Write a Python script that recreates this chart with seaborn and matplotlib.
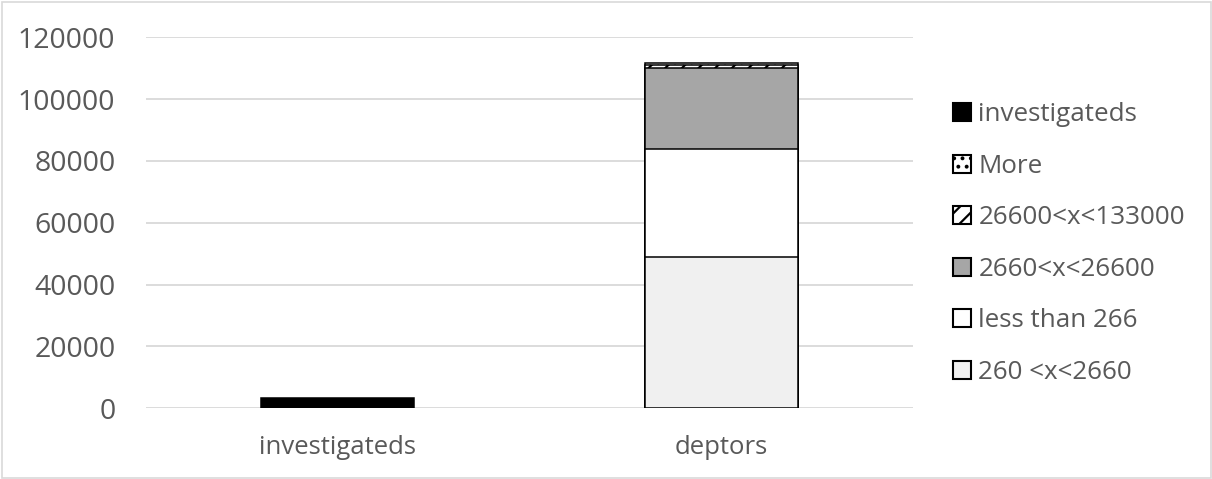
import matplotlib
matplotlib.use("Agg")
import matplotlib.pyplot as plt
from matplotlib.patches import Patch, Rectangle
import numpy as np
import pandas as pd
import seaborn as sns

# Categories on the x axis
categories = ["investigateds", "deptors"]

# Stacked series, bottom to top (values per category)
series_names = ["260 <x<2660", "less than 266", "2660<x<26600",
                "26600<x<133000", "More", "investigateds"]
val_260_2660 = [0, 49000]
val_less_266 = [0, 35000]
val_2660_26600 = [0, 26100]
val_26600_133000 = [0, 1100]
val_more = [0, 500]
val_investigateds = [3200, 0]

series_values = [val_260_2660, val_less_266, val_2660_26600,
                 val_26600_133000, val_more, val_investigateds]

y_ticks = [0, 20000, 40000, 60000, 80000, 100000, 120000]

# Styling per series
face_colors = ["#f0f0f0", "#ffffff", "#a6a6a6", "#ffffff", "#ffffff", "#000000"]
hatches = [None, None, None, "//", "..", None]

sns.set_theme(style="white")
plt.rcParams["font.family"] = ["Open Sans", "DejaVu Sans"]
plt.rcParams["hatch.linewidth"] = 1.6
text_color = "#595959"
grid_color = "#d9d9d9"

fig = plt.figure(figsize=(12.12, 4.79), dpi=100)
ax = fig.add_axes([146 / 1212, 1 - 408.3 / 479, 767 / 1212, 371 / 479])

# Long table with cumulative tops for each stacked segment
rows = []
cum = np.zeros(len(categories))
for name, vals in zip(series_names, series_values):
    vals = np.asarray(vals, dtype=float)
    cum = cum + vals
    for cat, v, top in zip(categories, vals, cum):
        if v > 0:
            rows.append({"category": cat, "series": name, "top": top})
df = pd.DataFrame(rows)

# Draw from the highest cumulative segment down, so lower ones overlay
for idx in reversed(range(len(series_names))):
    name = series_names[idx]
    sub = df[df["series"] == name]
    if sub.empty:
        continue
    sns.barplot(data=sub, x="category", y="top", order=categories, ax=ax,
                width=0.4, color=face_colors[idx], edgecolor="black",
                linewidth=1.1, hatch=hatches[idx], saturation=1,
                errorbar=None, zorder=3)

ax.set_xlim(-0.5, 1.5)
ax.set_ylim(0, 120000)
ax.set_yticks(y_ticks)
ax.set_yticklabels([str(t) for t in y_ticks])
ax.set_xlabel("")
ax.set_ylabel("")
ax.yaxis.grid(True, color=grid_color, linewidth=1.3, zorder=0)
ax.set_axisbelow(True)
for s in ax.spines.values():
    s.set_visible(False)
ax.tick_params(axis="y", length=0, pad=22, labelsize=20.5, labelcolor=text_color)
ax.tick_params(axis="x", length=0, pad=19, labelsize=18.5, labelcolor=text_color)

# Legend, top entry first
legend_order = list(reversed(range(len(series_names))))
handles = [Patch(facecolor=face_colors[i], edgecolor="black", linewidth=1.5,
                 hatch=hatches[i]) for i in legend_order]
labels = [series_names[i] for i in legend_order]
leg = fig.legend(handles, labels, loc="center left",
                 bbox_to_anchor=(953 / 1212, 1 - 243.5 / 479),
                 bbox_transform=fig.transFigure, frameon=False,
                 fontsize=18.7, handlelength=0.68, handleheight=0.68,
                 handletextpad=0.3, labelspacing=1.02, borderpad=0,
                 borderaxespad=0)
for t in leg.get_texts():
    t.set_color(text_color)

# Thin outer frame around the chart
fig.patches.append(Rectangle((1.5 / 1212, 1.5 / 479), 1 - 3 / 1212, 1 - 3 / 479,
                             transform=fig.transFigure, fill=False,
                             edgecolor=grid_color, linewidth=1.2))

fig.savefig("out.png", dpi=100)
